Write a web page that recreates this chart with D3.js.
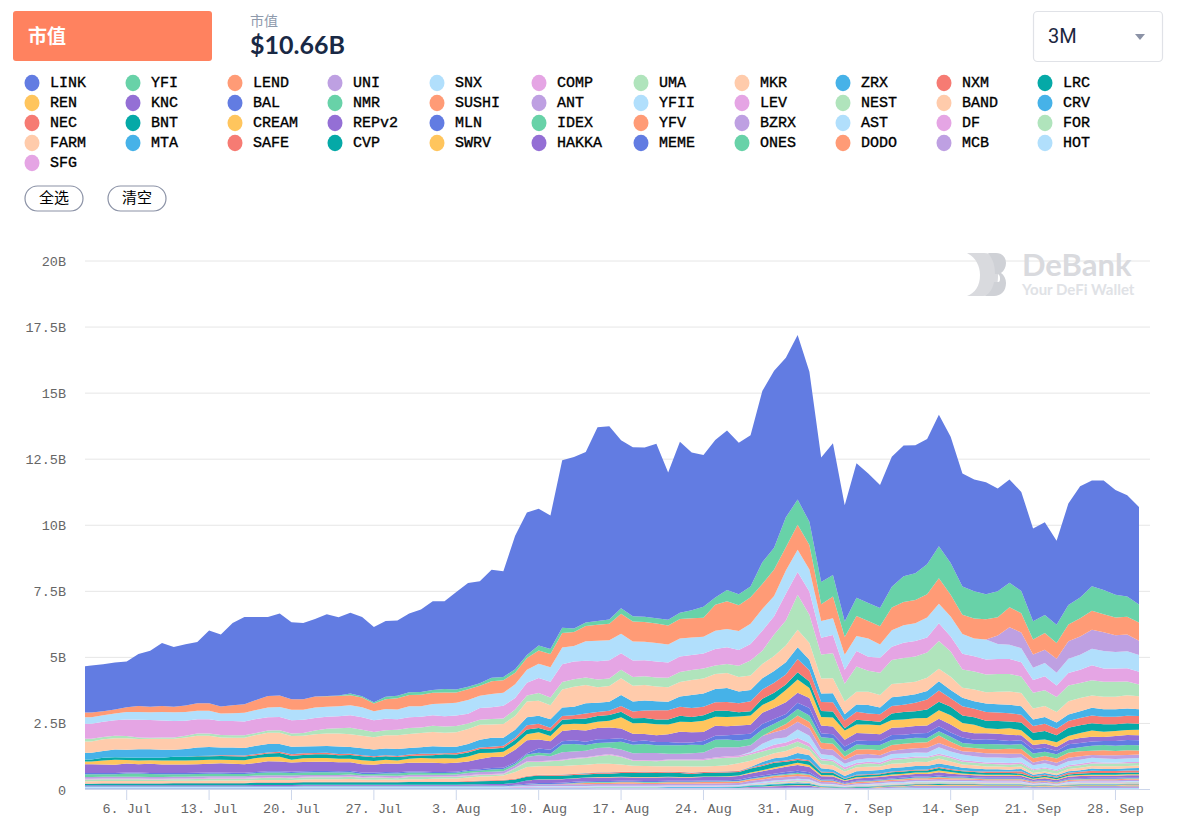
<!DOCTYPE html>
<html>
<head>
<meta charset="utf-8">
<script src="https://d3js.org/d3.v7.min.js"></script>
<style>
body { margin: 0; background: #fff; }
svg { display: block; }
</style>
</head>
<body>
<svg id="chart" width="1178" height="830"></svg>
<script>
// values are in hundredths of a billion (0.01B), one per day from 2 Jul to 30 Sep 2020
const LINK = [173,178,178,178,173,197,212,238,226,232,232,276,273,311,330,314,299,310,291,288,293,309,296,306,300,285,287,285,298,312,
335,332,369,392,386,409,400,505,539,517,505,634,649,645,733,732,636,639,640,660,558,647,597,574,596,604,573,573,648,670,604,
623,568,471,498,440,509,490,465,492,495,485,474,497,478,428,423,424,389,391,375,351,351,318,384,421,400,414,396,384,369];
const YFI = [0,0,0,0,0,0,0,0,0,0,0,0,0,0,0,0,0,0,0,0,0,1,2,6,5,5,9,10,10,10,
11,13,11,10,9,13,13,13,11,19,19,20,13,13,15,16,21,20,20,20,21,24,30,42,28,43,42,40,82,82,113,
95,88,84,82,59,69,68,69,78,97,101,113,122,120,107,103,95,98,92,84,69,68,69,74,79,93,92,86,76,68];
const LEND = [18,18,15,15,18,23,21,23,21,25,28,28,26,30,33,38,44,44,40,40,42,40,39,38,37,29,37,42,43,44,
42,42,39,40,38,49,47,44,45,50,50,55,53,58,60,62,76,76,75,74,72,74,73,72,98,105,97,101,95,101,88,
95,92,63,82,67,76,67,69,86,88,88,88,96,82,73,76,76,69,76,73,57,63,59,63,69,71,68,67,67,69];
const UNI = [0,0,0,0,0,0,0,0,0,0,0,0,0,0,0,0,0,0,0,0,0,0,0,0,0,0,0,0,0,0,
0,0,0,0,0,0,0,0,0,0,0,0,0,0,0,0,0,0,0,0,0,0,0,0,0,0,0,0,0,0,0,
0,0,0,0,0,0,0,0,0,0,0,0,0,0,0,0,0,32,66,59,50,50,53,66,69,72,71,64,64,54];
const SNX = [24,24,25,26,28,29,29,32,33,33,32,32,29,30,33,34,37,38,40,38,39,38,38,38,38,34,37,37,42,40,
43,48,48,52,47,50,49,52,49,54,55,63,59,74,78,76,73,72,70,70,68,68,66,63,69,69,72,76,82,76,88,
84,84,64,63,57,57,69,50,63,67,67,76,74,76,74,67,76,57,54,53,47,50,48,54,57,63,66,62,64,63];
const COMP = [57,57,57,59,63,67,67,64,62,57,54,54,53,54,52,53,50,50,50,50,48,45,45,47,47,44,44,40,40,40,
40,39,40,37,44,44,48,43,48,57,60,67,67,63,69,69,63,62,60,60,58,58,57,57,63,63,60,63,76,69,101,
86,88,63,69,53,59,53,57,50,57,59,57,67,57,60,57,57,57,57,54,48,53,44,47,50,57,50,50,50,49];
const UMA = [10,10,9,9,8,6,4,5,5,6,9,9,9,9,9,8,8,9,10,11,14,18,20,25,23,20,19,21,23,21,
23,23,23,21,19,21,21,25,23,29,29,29,28,29,29,28,32,33,34,34,36,38,38,38,32,34,42,57,50,82,95,
132,107,91,95,67,95,79,84,91,95,95,95,105,95,69,69,67,67,66,63,59,60,57,60,57,57,57,57,52,44];
const MKR = [43,43,44,43,44,39,40,42,42,44,44,42,38,37,39,40,43,43,40,40,45,47,49,48,47,47,50,52,53,54,
54,53,55,57,57,50,52,52,60,57,53,68,76,69,59,60,63,60,58,56,55,55,56,57,57,57,55,54,54,57,63,
67,63,57,57,48,48,50,48,50,49,48,50,47,50,38,44,43,47,50,50,42,42,39,50,50,47,47,47,50,49];
const ZRX = [25,25,26,29,29,32,32,30,26,29,32,33,29,29,28,32,32,29,29,26,26,26,29,26,26,25,25,26,25,25,
29,25,24,26,29,34,30,30,30,30,32,32,32,38,35,34,42,38,38,34,32,39,50,50,50,53,45,43,43,44,47,
44,40,32,34,24,28,32,25,33,33,32,32,35,32,32,28,32,32,32,32,25,25,24,25,25,29,29,29,28,26];
const NXM = [0,0,0,0,0,0,0,0,0,0,1,2,3,4,4,4,4,5,5,6,5,6,4,4,4,4,4,4,5,6,
5,4,6,6,6,8,8,8,16,16,14,14,14,19,15,16,22,25,28,35,35,34,34,32,32,33,34,38,35,38,38,
50,42,34,35,29,30,28,29,28,28,32,38,43,32,35,33,33,32,32,29,25,28,25,25,28,29,28,28,28,29];
const LRC = [8,8,10,9,9,10,9,10,14,14,15,13,14,14,14,11,13,14,15,13,14,14,14,15,15,14,13,13,11,10,
13,15,15,15,15,15,15,18,18,16,18,18,18,21,22,22,21,19,19,18,19,23,19,21,23,24,16,16,23,25,20,
28,25,23,23,9,18,14,13,25,28,26,32,32,32,28,28,28,30,25,30,29,32,26,32,29,28,28,26,26,23];
const REN = [10,10,15,19,14,14,14,15,15,15,15,16,14,15,15,19,16,18,11,14,14,14,13,13,15,14,15,13,15,18,
16,19,16,19,23,16,19,20,23,28,19,25,23,25,23,25,42,40,42,42,37,37,38,42,34,35,34,35,30,32,47,
50,38,32,34,35,32,34,34,29,29,30,29,32,35,32,32,19,18,25,19,18,15,18,16,19,23,20,19,19,21];
const KNC = [34,34,33,32,34,32,35,33,33,33,33,33,35,34,33,34,38,37,35,35,35,35,34,33,32,30,32,32,33,33,
35,33,34,32,38,42,42,47,50,34,33,38,40,42,43,44,37,29,25,25,29,42,39,34,38,34,34,34,42,42,44,
38,38,29,29,25,29,28,25,28,29,28,28,29,30,23,25,23,24,23,19,16,16,15,15,19,18,15,18,19,19];
const BAL = [4,4,4,4,3,3,3,4,4,4,4,4,4,4,4,4,5,5,5,5,5,5,5,5,5,5,5,4,4,4,
4,4,4,4,5,5,4,6,4,16,15,13,14,13,14,13,13,13,13,13,13,10,9,16,15,16,23,19,21,18,15,
23,28,15,15,19,15,16,16,19,16,16,19,19,16,21,16,18,16,15,14,16,15,13,18,16,16,16,18,19,19];
const NMR = [11,11,10,10,13,13,12,11,10,10,10,10,10,9,9,9,10,10,9,9,10,10,9,8,6,6,8,9,8,8,
6,6,6,8,6,9,9,6,9,9,9,29,28,21,19,19,30,32,34,29,32,32,32,28,29,29,25,25,25,23,23,
25,25,21,21,19,19,16,19,19,18,19,16,16,19,15,15,19,19,15,19,18,16,16,14,15,19,19,20,19,19];
const SUSHI = [0,0,0,0,0,0,0,0,0,0,0,0,0,0,0,0,0,0,0,0,0,0,0,0,0,0,0,0,0,0,
0,0,0,0,0,0,0,0,0,0,0,0,0,0,0,0,0,0,0,0,0,0,0,0,0,0,0,0,0,9,19,
24,23,23,23,13,19,18,19,21,21,21,21,28,21,16,15,16,16,19,18,16,15,16,19,19,16,19,16,18,16];
const ANT = [6,6,6,6,6,6,6,6,6,6,6,6,6,6,6,7,7,7,7,7,6,6,6,6,6,5,6,6,6,6,
6,5,6,8,8,8,8,9,16,23,16,28,25,25,28,25,25,25,26,28,21,21,23,25,38,34,32,25,29,25,32,
29,29,21,21,15,19,16,13,13,16,16,19,16,16,13,16,16,15,16,14,10,13,13,13,13,11,13,15,14,13];
const YFII = [0,0,0,0,0,0,0,0,0,0,0,0,0,0,0,0,0,0,0,0,0,0,0,0,0,0,0,0,0,0,
0,0,0,0,0,0,0,0,0,0,0,0,0,0,0,0,0,0,0,0,0,0,0,0,0,0,0,4,21,23,19,
32,28,16,16,13,13,13,15,16,16,15,15,25,19,21,19,19,19,19,18,15,16,13,15,16,16,15,14,13,15];
const LEV = [3,3,3,3,3,3,3,3,3,3,3,3,3,3,3,3,3,3,3,3,3,3,3,3,3,3,3,3,3,3,
3,3,3,3,3,3,3,3,3,3,3,3,3,3,3,3,3,3,3,3,3,3,3,4,4,6,6,6,8,13,13,
13,13,6,6,8,6,6,6,6,5,5,4,5,6,6,6,5,6,6,6,4,4,5,5,5,6,4,3,5,4];
const NEST = [7,7,7,7,7,7,6,6,6,6,7,7,7,7,7,7,8,8,7,7,7,7,7,8,6,8,6,6,8,8,
6,6,6,6,6,6,5,13,19,16,18,21,24,25,29,34,28,19,20,19,23,23,24,24,28,28,23,23,21,19,19,
19,13,15,15,9,10,13,9,15,16,15,16,13,13,10,9,10,9,9,10,11,11,10,9,10,9,10,10,10,9];
const BAND = [8,8,8,8,8,8,8,8,8,8,8,9,9,9,9,9,9,9,9,9,10,10,10,11,9,8,9,8,9,9,
11,12,12,13,15,15,16,25,34,32,33,32,32,32,32,32,28,23,21,21,20,21,23,20,21,23,28,24,19,19,23,
25,19,16,16,16,15,15,13,16,15,16,15,19,15,13,13,10,10,10,9,6,6,6,9,9,10,10,10,9,10];
const CRV = [0,0,0,0,0,0,0,0,0,0,0,0,0,0,0,0,0,0,0,0,0,0,0,0,0,0,0,0,0,0,
0,0,0,0,0,0,0,0,0,0,0,1,1,1,1,1,1,1,1,1,1,1,1,1,1,1,1,3,10,13,13,
21,19,13,10,9,13,13,13,13,13,14,13,13,13,10,10,9,9,7,9,6,6,6,6,6,8,8,8,8,9];
const NEC = [1,1,1,1,1,1,1,1,1,1,1,1,1,1,1,1,1,1,1,2,2,2,2,2,2,2,2,2,2,2,
2,2,2,3,3,3,3,3,3,3,4,4,4,4,4,4,4,4,4,4,4,4,4,4,4,4,4,3,5,4,5,
5,4,3,3,2,3,3,3,3,3,3,4,4,4,3,3,6,6,6,8,4,4,4,6,6,9,8,8,8,8];
const BNT = [6,6,7,7,7,7,7,7,8,8,8,8,8,8,8,9,9,9,9,9,9,9,9,9,9,9,9,9,10,10,
10,10,10,10,11,11,13,13,14,14,13,12,12,12,13,13,14,15,16,15,15,15,12,13,14,14,13,15,16,18,13,
11,14,9,9,5,7,7,7,8,8,8,8,9,8,8,8,6,6,6,6,5,5,5,5,6,6,6,6,6,6];
const CREAM = [0,0,0,0,0,0,0,0,0,0,0,0,0,0,0,0,0,0,0,0,0,0,0,0,0,0,0,0,0,0,
0,0,0,0,0,0,0,0,0,1,1,1,1,1,2,2,2,2,2,2,2,2,2,2,2,2,2,3,4,5,6,
8,8,5,5,3,4,4,4,5,5,5,5,7,6,4,4,4,4,4,4,3,4,3,4,4,4,4,4,4,4];
const REPv2 = [3,3,3,3,3,3,3,3,3,3,3,3,3,3,3,4,4,4,4,4,4,4,4,4,4,4,4,4,4,4,
4,4,4,5,5,6,6,7,12,13,13,13,13,13,13,13,13,12,13,13,13,12,12,13,13,13,14,15,16,18,20,
22,20,11,11,7,9,9,9,10,10,10,10,12,11,8,8,8,8,8,7,6,7,6,7,8,8,8,8,8,8];
const MLN = [2,2,2,2,2,2,2,2,2,2,2,2,2,2,2,2,2,2,2,2,2,2,2,2,2,2,2,2,2,2,
2,2,2,2,3,3,3,3,4,4,4,4,4,4,4,4,4,4,4,4,4,4,4,4,4,4,5,5,6,6,7,
8,7,4,4,3,3,3,3,3,4,4,4,5,4,4,3,3,3,3,3,2,3,3,3,3,3,3,3,3,3];
const IDEX = [1,1,1,1,1,1,1,1,1,1,1,1,1,1,1,1,1,1,1,1,1,1,1,1,1,1,1,1,1,1,
1,1,1,1,1,1,1,1,1,1,1,1,2,2,2,2,2,2,2,2,2,2,2,2,2,2,2,2,3,3,4,
4,3,2,2,1,2,2,2,2,2,2,2,2,2,2,2,2,2,2,2,1,1,1,2,2,2,2,2,2,2];
const YFV = [0,0,0,0,0,0,0,0,0,0,0,0,0,0,0,0,0,0,0,0,0,0,0,0,0,0,0,0,0,0,
0,0,0,0,0,0,0,0,0,0,0,1,3,5,5,5,5,5,5,5,5,5,5,5,5,5,5,6,6,7,8,
8,8,5,5,3,4,4,4,5,5,5,5,6,5,5,4,4,4,4,4,3,3,3,4,4,4,4,4,4,4];
const BZRX = [0,0,0,0,0,0,0,0,0,0,0,0,0,0,0,0,0,0,0,0,0,0,0,0,0,0,0,0,0,0,
0,0,0,0,0,0,0,2,5,7,7,7,7,7,7,7,8,8,7,7,7,7,7,8,8,8,8,9,9,10,10,
10,9,6,6,4,5,5,5,5,6,6,6,7,6,6,5,5,5,5,5,4,4,3,4,4,5,5,5,5,5];
const AST = [3,3,3,3,3,3,3,3,3,3,3,3,3,3,3,3,3,3,3,3,3,3,3,3,3,3,3,3,3,3,
3,3,3,3,3,3,3,3,3,3,3,3,3,3,3,3,3,3,3,3,3,3,3,3,3,3,3,3,4,4,4,
4,4,3,3,2,2,3,3,3,3,3,3,3,3,3,3,3,3,3,3,2,2,2,3,3,3,3,3,3,3];
const DF = [1,1,1,1,1,1,1,1,1,1,1,1,1,1,1,1,1,1,1,1,1,1,1,1,1,1,1,1,1,1,
1,1,1,1,1,1,1,2,2,2,2,2,2,2,2,2,2,2,2,2,2,2,2,2,2,2,2,2,3,3,3,
3,3,2,2,1,2,2,2,2,2,2,2,2,2,2,2,2,2,2,2,1,1,1,2,2,2,2,2,2,2];
const FOR = [0,0,0,0,0,0,0,0,0,0,0,0,0,0,0,0,0,0,0,0,0,0,0,0,0,0,0,0,0,0,
0,0,0,0,0,0,0,0,0,1,1,1,1,1,1,1,1,1,1,1,1,1,1,1,1,1,1,2,2,3,3,
4,3,2,2,1,2,2,2,2,2,2,2,2,2,2,2,2,2,2,2,1,2,1,2,2,2,2,2,2,2];
const FARM = [0,0,0,0,0,0,0,0,0,0,0,0,0,0,0,0,0,0,0,0,0,0,0,0,0,0,0,0,0,0,
0,0,0,0,0,0,0,0,0,0,0,0,0,0,0,0,0,0,0,0,0,0,0,0,0,0,0,1,2,2,3,
3,3,2,2,1,1,2,2,2,2,2,2,2,2,2,2,2,2,2,2,1,1,1,2,2,2,2,2,2,2];
const MTA = [1,1,1,1,1,1,1,1,1,1,1,1,1,1,1,1,1,1,1,2,2,2,2,2,2,2,2,2,2,2,
2,2,2,2,2,2,2,2,2,2,2,2,2,2,2,2,2,2,2,2,2,2,2,2,2,2,2,3,3,3,3,
3,3,2,2,1,2,2,2,2,2,2,2,2,2,2,2,2,2,2,2,2,2,1,2,2,2,2,2,2,2];
const SAFE = [0,0,0,0,0,0,0,0,0,0,0,0,0,0,0,0,0,0,0,0,0,0,0,0,0,0,0,0,0,0,
0,0,0,0,0,0,0,0,0,0,0,0,0,0,0,0,0,0,0,0,0,0,0,0,0,0,0,0,0,0,0,
1,1,0,0,0,1,1,1,1,1,1,1,1,1,1,1,1,1,1,1,1,1,1,1,1,1,1,1,1,1];
const CVP = [0,0,0,0,0,0,0,0,0,0,0,0,0,0,0,0,0,0,0,0,0,0,0,0,0,0,0,0,0,0,
0,0,0,0,0,0,0,0,0,0,0,0,0,0,0,0,0,0,0,0,1,1,1,1,1,2,2,3,4,5,6,
6,5,2,2,1,2,2,2,3,3,3,3,4,3,3,3,2,2,2,2,2,2,1,2,2,2,2,2,2,2];
const SWRV = [0,0,0,0,0,0,0,0,0,0,0,0,0,0,0,0,0,0,0,0,0,0,0,0,0,0,0,0,0,0,
0,0,0,0,0,0,0,0,0,0,0,0,0,0,0,0,0,0,0,0,0,0,0,0,0,0,0,1,1,2,2,
2,2,1,1,1,1,1,2,2,2,3,3,3,3,3,3,3,3,3,3,2,3,2,3,3,3,3,3,3,3];
const HAKKA = [0,0,0,0,0,0,0,0,0,0,0,0,0,0,0,0,0,0,0,0,0,0,0,0,0,0,0,0,0,0,
0,0,0,0,0,0,0,0,0,0,0,0,0,0,0,0,0,0,0,0,0,0,0,0,0,0,1,2,3,5,6,
6,5,2,1,1,1,1,2,2,2,3,3,3,3,3,3,2,2,2,2,2,2,2,2,2,2,2,2,2,2];
const MEME = [0,0,0,0,0,0,0,0,0,0,0,0,0,0,0,0,0,0,0,0,0,0,0,0,0,0,0,0,0,0,
0,0,0,0,0,0,0,0,0,0,0,0,0,0,0,0,0,0,0,0,0,0,0,0,0,0,0,0,0,0,0,
1,1,0,0,0,0,0,0,0,0,1,1,1,1,1,1,1,1,1,1,1,1,1,1,1,1,1,1,1,1];
const ONES = [0,0,0,0,0,0,0,0,0,0,0,0,0,0,0,0,0,0,0,0,0,0,0,0,0,0,0,0,0,0,
0,0,0,0,0,0,0,0,0,0,0,0,0,0,0,0,0,0,0,0,0,0,0,0,0,0,0,0,0,0,0,
0,0,0,0,0,0,0,0,0,1,1,1,1,1,1,1,1,1,1,1,1,1,1,1,1,1,1,1,1,1];
const DODO = [0,0,0,0,0,0,0,0,0,0,0,0,0,0,0,0,0,0,0,0,0,0,0,0,0,0,0,0,0,0,
0,0,0,0,0,0,0,0,0,0,0,0,0,0,0,0,0,0,0,0,0,0,0,0,0,0,0,0,0,0,0,
0,0,0,0,0,0,0,0,0,0,0,0,0,0,0,0,0,0,0,0,0,0,0,0,0,0,0,0,2,2];
const MCB = [2,2,2,2,2,2,2,2,2,2,2,2,2,2,2,2,2,2,2,2,2,2,2,2,2,2,2,2,2,2,
2,2,2,2,2,2,2,2,2,2,2,2,2,2,2,2,2,2,2,2,2,2,2,2,2,2,2,3,3,3,3,
3,3,2,2,2,2,2,2,3,3,3,3,3,3,3,3,3,3,3,3,2,3,2,3,3,3,3,3,3,3];
const HOT = [3,3,3,3,3,3,3,3,3,3,3,3,3,3,3,3,3,3,3,3,3,3,3,3,3,3,3,3,3,3,
3,3,3,3,3,3,3,3,3,3,3,3,3,3,4,4,4,4,4,4,4,4,4,4,4,4,4,4,4,4,4,
4,4,3,3,3,3,3,3,4,4,4,4,4,4,4,4,4,4,4,4,3,3,3,3,4,4,4,4,4,4];
const SFG = [0,0,0,0,0,0,0,0,0,0,0,0,0,0,0,0,0,0,0,0,0,0,0,0,0,0,0,0,0,0,
0,0,0,0,0,0,0,0,0,0,0,0,0,0,0,0,0,0,0,0,0,0,0,0,0,0,0,0,0,0,0,
1,1,1,1,0,0,0,1,1,1,2,2,2,2,2,2,2,2,2,2,1,1,1,1,2,2,2,2,2,2];

const coinNames = ["LINK","YFI","LEND","UNI","SNX","COMP","UMA","MKR","ZRX","NXM","LRC","REN","KNC","BAL","NMR","SUSHI","ANT","YFII","LEV","NEST","BAND","CRV","NEC","BNT","CREAM","REPv2","MLN","IDEX","YFV","BZRX","AST","DF","FOR","FARM","MTA","SAFE","CVP","SWRV","HAKKA","MEME","ONES","DODO","MCB","HOT","SFG"];
const coinValues = [LINK,YFI,LEND,UNI,SNX,COMP,UMA,MKR,ZRX,NXM,LRC,REN,KNC,BAL,NMR,SUSHI,ANT,YFII,LEV,NEST,BAND,CRV,NEC,BNT,CREAM,REPv2,MLN,IDEX,YFV,BZRX,AST,DF,FOR,FARM,MTA,SAFE,CVP,SWRV,HAKKA,MEME,ONES,DODO,MCB,HOT,SFG];
const palette = ["#627ce2","#68d2a8","#ff9b76","#bea0e2","#b1dffc","#e5a5e4","#b0e4bc","#ffcbab","#46b2e8","#f67b73","#05a9a7","#ffc55d","#946fd5"];
const yTicks = [0,250,500,750,1000,1250,1500,1750,2000];
const yTickLabels = ["0","2.5B","5B","7.5B","10B","12.5B","15B","17.5B","20B"];
const days = d3.timeDay.range(new Date(2020,6,2), new Date(2020,9,1));
const xTicks = d3.timeMonday.range(new Date(2020,6,6), new Date(2020,9,1));
const legendX = [32,133,235,335,437,539,641,742,843,944,1045];

const svg = d3.select("#chart");
const x = d3.scaleTime().domain([new Date(2020,6,2,11), new Date(2020,8,30)]).range([85,1139]);
const y = d3.scaleLinear().domain([0,2000]).range([789.5,261]);
const color = i => palette[i % palette.length];

// header
svg.append("rect").attr("x",13).attr("y",11).attr("width",199).attr("height",50).attr("rx",3).attr("fill","#ff825f");
svg.append("text").attr("x",28).attr("y",43).attr("fill","#fff").style("font","bold 19px 'Noto Sans CJK SC'").text("市值");
svg.append("text").attr("x",250).attr("y",26).attr("fill","#8e9aac").style("font","14px 'Noto Sans CJK SC'").text("市值");
svg.append("text").attr("x",250).attr("y",54).attr("fill","#192945").style("font","bold 25px Lato").text("$10.66B");
svg.append("rect").attr("x",1033.5).attr("y",11.5).attr("width",129).attr("height",50).attr("rx",4).attr("fill","#fff").attr("stroke","#e0e2e7").attr("stroke-width",1.2);
svg.append("text").attr("x",1048).attr("y",43).attr("fill","#1c2740").style("font","20px Roboto").text("3M");
svg.append("path").attr("d","M1135 34h10l-5 6z").attr("fill","#8b92a6");

// legend
const leg = svg.append("g").selectAll("g").data(coinNames).join("g")
  .attr("transform",(d,i) => `translate(${legendX[i % 11]},${83 + Math.floor(i / 11) * 20})`);
leg.append("ellipse").attr("rx",7.5).attr("ry",8.2).attr("fill",(d,i) => color(i));
leg.append("text").attr("x",18).attr("y",4).attr("fill","#000").attr("stroke","#000").attr("stroke-width",0.35)
  .style("font","15px 'Liberation Mono'").text(d => d);

[[25,"全选"],[108,"清空"]].forEach(([bx,label]) => {
  svg.append("rect").attr("x",bx).attr("y",186).attr("width",58).attr("height",25).attr("rx",12.5).attr("fill","#fff").attr("stroke","#8b92a6").attr("stroke-width",1.2);
  svg.append("text").attr("x",bx + 29).attr("y",203).attr("text-anchor","middle").attr("fill","#000").style("font","15px 'Noto Sans CJK SC'").text(label);
});

// grid and axes
svg.append("g").selectAll("line").data(yTicks.slice(1)).join("line")
  .attr("x1",85).attr("x2",1150).attr("y1",d => y(d)).attr("y2",d => y(d)).attr("stroke","#e6e6e6");
svg.append("g").selectAll("text").data(yTicks).join("text")
  .attr("x",66).attr("y",d => y(d) + 5).attr("text-anchor","end").attr("fill","#666")
  .style("font","13.5px 'Liberation Mono'").text((d,i) => yTickLabels[i]);

// stacked areas, first coin on top
const table = days.map((d,i) => {
  const row = { date: d };
  coinNames.forEach((n,k) => { row[n] = coinValues[k][i]; });
  return row;
});
const stacked = d3.stack().keys(coinNames.slice().reverse())(table);
const area = d3.area().x(d => x(d.data.date)).y0(d => y(d[0])).y1(d => y(d[1]));
svg.append("clipPath").attr("id","plot").append("rect").attr("x",85).attr("y",240).attr("width",1060).attr("height",549.5);
svg.append("g").attr("clip-path","url(#plot)").selectAll("path").data(stacked).join("path")
  .attr("d",area)
  .attr("fill",d => color(coinNames.indexOf(d.key)));

svg.append("line").attr("x1",85).attr("x2",1150).attr("y1",789.5).attr("y2",789.5).attr("stroke","#ccd6eb");
svg.append("g").selectAll("line").data(xTicks).join("line")
  .attr("x1",d => x(d)).attr("x2",d => x(d)).attr("y1",789.5).attr("y2",800).attr("stroke","#ccd6eb");
svg.append("g").selectAll("text").data(xTicks).join("text")
  .attr("x",d => x(d)).attr("y",812.5).attr("text-anchor","middle").attr("fill","#666")
  .style("font","13.5px 'Liberation Mono'").text(d => d3.timeFormat("%-d. %b")(d));

// watermark
const wm = svg.append("g").attr("fill","#d9dade");
wm.append("path").attr("d","M967 253h17c9 0 14 7 14 16v8c0 11-6 19-15 19h-16c8-3 13-10 13-21 0-10-5-18-13-22z");
wm.append("path").attr("fill","#cfd1d6").attr("d","M988 253h8c6 0 10 4 10 10 0 4-2 8-5 10 3 2 5 6 5 10 0 8-5 13-12 13h-9c5-3 8-8 9-14h4c2 0 2-2 2-4s-1-4-3-4h-2c0-8-2-15-7-21z");
wm.append("text").attr("x",1022).attr("y",276).style("font","bold 31px Lato").text("DeBank");
wm.append("text").attr("x",1022).attr("y",295).attr("fill","#e0e2e6").style("font","bold 15px Lato").text("Your DeFi Wallet");
</script>
</body>
</html>
